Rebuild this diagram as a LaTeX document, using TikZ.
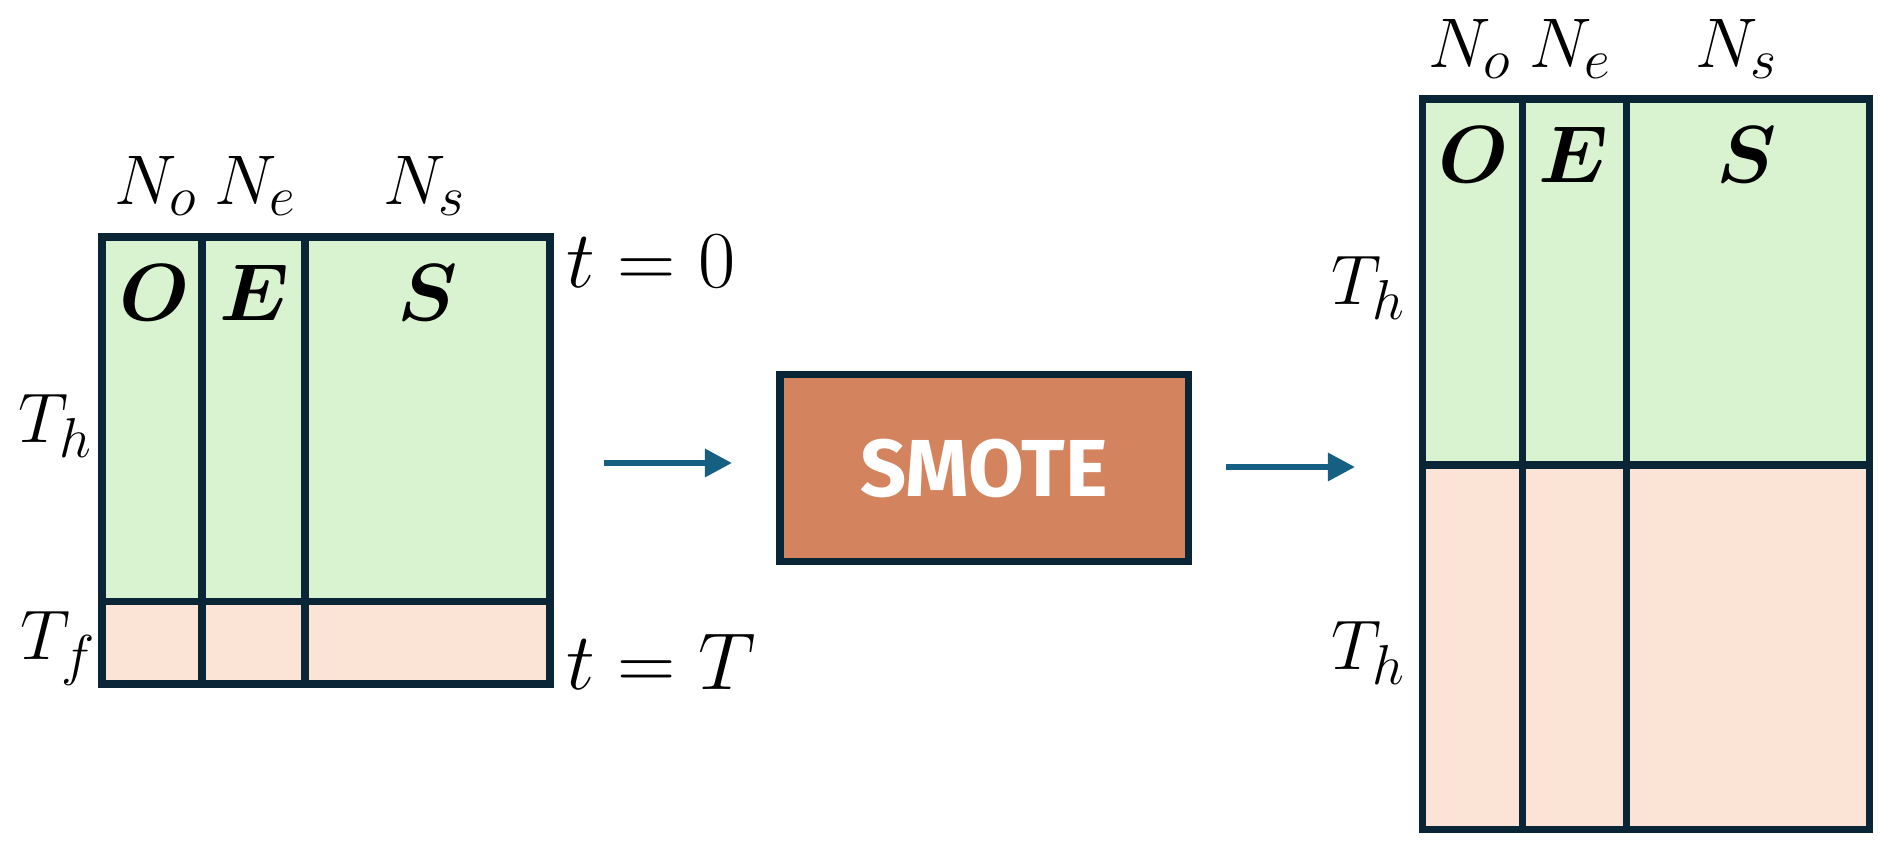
\RequirePackage{fix-cm}
\documentclass[tikz,border=0pt]{standalone}
\usepackage{amsmath}
\usepackage{fontspec}
\newfontfamily\smotefont{Fira Sans}
\DeclareMathSizes{20}{20}{16}{12}
\DeclareMathSizes{23}{23}{18}{14}
\usetikzlibrary{arrows.meta}
\definecolor{gridline}{HTML}{0A2535}
\definecolor{greenfill}{HTML}{D9F2D0}
\definecolor{peachfill}{HTML}{FBE3D6}
\definecolor{smotefill}{HTML}{D3845E}
\definecolor{flowblue}{HTML}{156082}
\begin{document}
\begin{tikzpicture}[x=0.1mm,y=-0.1mm,
  grid/.style={draw=gridline,line width=2pt},
  lbl/.style={inner sep=0pt,font=\fontsize{20}{24}\selectfont},
  tlbl/.style={inner sep=0pt,font=\fontsize{23}{27}\selectfont,anchor=base west},
  cell/.style={inner sep=0pt,anchor=base,font=\fontsize{23}{27}\selectfont},
  flow/.style={draw=flowblue,line width=1.7pt,-{Triangle[length=7.7pt,width=7.7pt]}},
  smotebox/.style={draw=gridline,line width=2pt,fill=smotefill,minimum width=40.8mm,minimum height=18.7mm,inner sep=0pt,text=white,font=\smotefont\bfseries\fontsize{23}{27}\selectfont}]
\useasboundingbox[fill=white] (0,0) rectangle (1892,852);

% ---- left table ----
\fill[greenfill] (102,237) rectangle (550,601.5);
\fill[peachfill] (102,601.5) rectangle (550,684);
\draw[grid] (102,237) rectangle (550,684);
\draw[grid] (202,237) -- (202,684) (305,237) -- (305,684) (102,601.5) -- (550,601.5);

\node[lbl,anchor=base] (lno) at (156,205) {$N_o$};
\node[lbl,anchor=base] (lne) at (256,205) {$N_e$};
\node[lbl,anchor=base] (lns) at (425,205) {$N_s$};
\node[cell] (lo) at (155,321) {$\boldsymbol{O}$};
\node[cell] (le) at (254,321) {$\boldsymbol{E}$};
\node[cell] (ls) at (428,321) {$\boldsymbol{S}$};
\node[lbl,anchor=base west] (lth) at (18,443) {$T_h$};
\node[lbl,anchor=base west] (ltf) at (20,660) {$T_f$};
\node[tlbl] (t0) at (566,288) {$t = 0$};
\node[tlbl] (tT) at (566,690) {$t = T$};

% ---- SMOTE box and arrows ----
\node[smotebox] (smote) at (984,468) {SMOTE};
\coordinate (a1s) at (604,463);
\coordinate (a1e) at (732,463);
\coordinate (a2s) at (1226,467);
\coordinate (a2e) at (1355,467);
\draw[flow] (a1s) -- (a1e);
\draw[flow] (a2s) -- (a2e);

% ---- right table ----
\fill[greenfill] (1422,99) rectangle (1869,465);
\fill[peachfill] (1422,465) rectangle (1869,829.5);
\draw[grid] (1422,99) rectangle (1869,829.5);
\draw[grid] (1522,99) -- (1522,829.5) (1626,99) -- (1626,829.5) (1422,465) -- (1869,465);

\node[lbl,anchor=base] (rno) at (1470,68) {$N_o$};
\node[lbl,anchor=base] (rne) at (1571,68) {$N_e$};
\node[lbl,anchor=base] (rns) at (1737,68) {$N_s$};
\node[cell] (ro) at (1474,183) {$\boldsymbol{O}$};
\node[cell] (re) at (1573,183) {$\boldsymbol{E}$};
\node[cell] (rs) at (1747,183) {$\boldsymbol{S}$};
\node[lbl,anchor=base west] (rth1) at (1331,305) {$T_h$};
\node[lbl,anchor=base west] (rth2) at (1331,670) {$T_h$};
\end{tikzpicture}
\end{document}
